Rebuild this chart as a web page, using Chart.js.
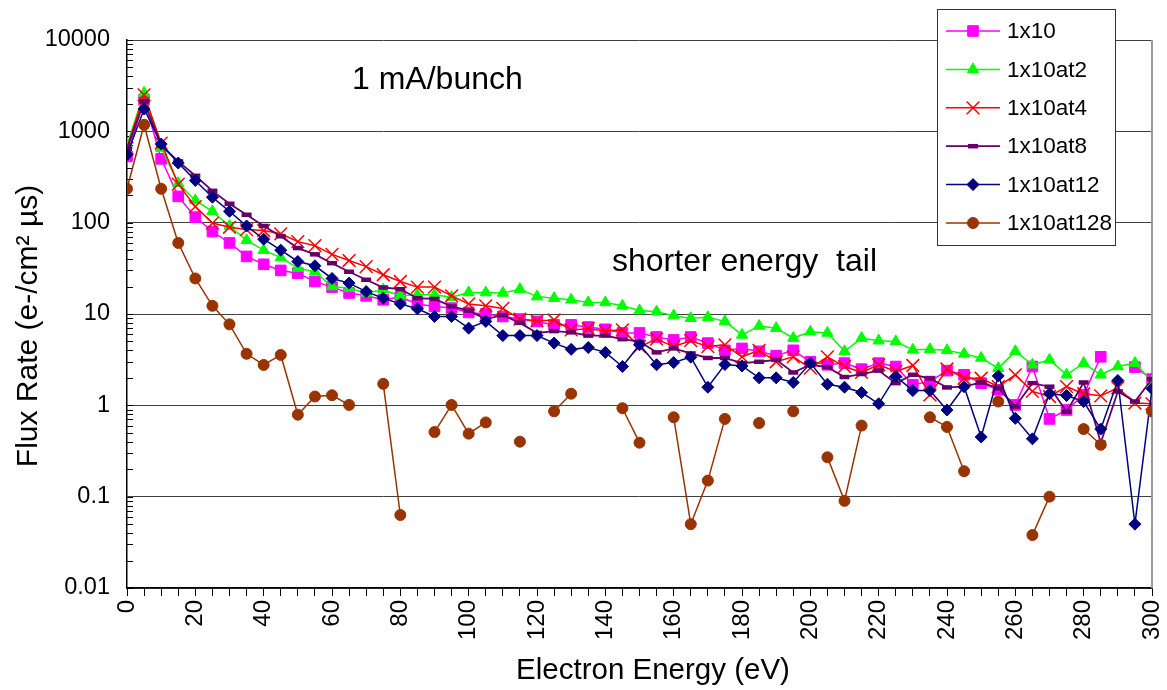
<!DOCTYPE html>
<html>
<head>
<meta charset="utf-8">
<script src="https://cdn.jsdelivr.net/npm/chart.js@4/dist/chart.umd.min.js"></script>
<style>
  html, body { margin: 0; padding: 0; background: #ffffff; }
  canvas { display: block; }
</style>
</head>
<body>
<canvas id="flux" width="1167" height="690"></canvas>
<script>
// Electron energy bins (eV)
const energies = [0,5,10,15,20,25,30,35,40,45,50,55,60,65,70,75,80,85,90,95,100,
  105,110,115,120,125,130,135,140,145,150,155,160,165,170,175,180,185,190,195,200,
  205,210,215,220,225,230,235,240,245,250,255,260,265,270,275,280,285,290,295,300];

// Flux rate per bin (e-/cm² µs); null = no count in that bin
const flux1x10 = [531,2220,500,194,115,80,60,42.7,35,30,28,22.7,19.7,17,15.8,14.3,15.3,12.9,12.1,11.6,10.4,
  10.0,9.4,8.8,8.3,7.6,7.6,7.2,6.8,6.2,6.2,5.6,5.2,5.6,4.8,4.0,4.2,3.9,3.5,4.0,3.0,
  2.78,2.9,2.49,2.9,2.66,1.68,1.82,2.4,2.16,1.75,1.48,1.01,2.66,0.71,0.89,1.3,3.4,null,2.62,1.94];
const flux1x10at2 = [713,2630,656,270,175,133,92,64,50,41.5,31.8,29,20,19.2,17,18.4,15.8,16.2,16.2,15.3,17.2,
  17.2,17,18.7,15.5,14.9,14.3,13.4,13.4,12.3,10.9,10.6,9.6,9.0,9.2,8.3,5.9,7.4,7.0,5.45,6.4,
  6.2,3.9,5.45,5.1,5.0,4.05,4.1,4.0,3.66,3.3,2.55,3.9,2.78,3.15,2.16,2.9,2.16,2.66,2.9,1.82];
const flux1x10at4 = [656,2510,744,264,150,99,89,84,82,75.5,62,56,45,38.5,33,26.9,22.7,19.7,19.7,15.8,12.9,
  12.3,11.5,8.8,8.4,8.6,6.7,6.9,6.5,6.7,4.4,5.3,4.4,5.1,4.4,4.6,3.4,4.0,3.0,3.4,2.55,
  3.4,2.66,2.29,2.78,2.35,2.73,1.3,2.5,1.98,1.98,1.6,2.16,1.42,1.25,1.6,1.34,1.27,1.55,1.06,1.04];
const flux1x10at8 = [645,2125,700,468,326,223,161,122,92,71,52.7,45,36,29,23.7,19.5,18.7,14.9,14.6,12.1,10.9,
  8.8,9.7,8.0,6.2,6.5,6.3,5.8,5.8,5.3,5.0,3.8,4.2,3.7,3.3,3.3,2.9,3.0,3.15,2.29,2.78,
  2.62,2.04,2.2,2.4,1.75,2.16,1.97,1.57,1.6,1.78,1.54,0.97,1.75,1.6,0.85,1.78,0.39,1.42,1.1,1.94];
const flux1x10at12 = [555,1755,726,450,290,190,133,92,66,50,37.6,33.7,24.5,21.8,17.6,14.9,12.9,11.4,9.4,9.4,7.0,
  8.3,5.8,5.8,5.8,4.8,4.1,4.3,3.8,2.66,4.6,2.78,2.94,3.37,1.58,2.8,2.7,2.0,2.0,1.78,2.9,
  1.7,1.58,1.38,1.04,2.07,1.45,1.45,0.89,1.6,0.45,2.1,0.72,0.43,1.34,1.28,1.1,0.55,1.87,0.05,1.52];
const flux1x10at128 = [235,1180,235,60,24.5,12.3,7.7,3.67,2.77,3.56,0.79,1.25,1.29,1.01,null,1.72,0.063,null,0.51,1.01,0.49,
  0.65,null,0.40,null,0.86,1.34,null,null,0.93,0.39,null,0.74,0.05,0.15,0.71,null,0.64,null,0.86,null,
  0.27,0.09,0.6,null,null,null,0.74,0.58,0.19,null,1.1,null,0.038,0.10,null,0.55,0.37,null,null,0.86];

// Axis tick labels
const yDecades = [0.01, 0.1, 1, 10, 100, 1000, 10000];
const xLabelStep = 20;

const FONT = '"Liberation Sans", Arial, Helvetica, sans-serif';

const seriesDefs = [
  { label: '1x10',      values: flux1x10,      color: '#FF00FF', style: 'rect',     radius: 7.5, pbw: 1,   lw: 1.5 },
  { label: '1x10at2',   values: flux1x10at2,   color: '#00FF00', style: 'triangle', radius: 6.5, pbw: 1,   lw: 1.5 },
  { label: '1x10at4',   values: flux1x10at4,   color: '#FF0000', style: 'crossRot', radius: 9,   pbw: 1.5, lw: 1.5 },
  { label: '1x10at8',   values: flux1x10at8,   color: '#660066', style: 'line',     radius: 5,   pbw: 4.5, lw: 1.8 },
  { label: '1x10at12',  values: flux1x10at12,  color: '#000080', style: 'rectRot',  radius: 6,   pbw: 1,   lw: 1.5 },
  { label: '1x10at128', values: flux1x10at128, color: '#993300', style: 'circle',   radius: 5.5, pbw: 1,   lw: 1.5 }
];

const datasets = seriesDefs.map((s, i) => ({
  label: s.label,
  data: energies.map((e, k) => ({ x: e, y: s.values[k] })),
  borderColor: s.color,
  backgroundColor: s.color,
  borderWidth: s.lw,
  pointStyle: s.style,
  pointRadius: s.radius,
  pointBorderWidth: s.pbw,
  pointBorderColor: s.color,
  pointBackgroundColor: s.color,
  spanGaps: false,
  tension: 0,
  order: seriesDefs.length - i
}));

// Inside tick marks on the log axis, plot frame on the right
const axisDecor = {
  id: 'axisDecor',
  beforeDatasetsDraw(chart) {
    const { ctx, chartArea, scales: { y } } = chart;
    ctx.save();
    ctx.strokeStyle = '#000';
    ctx.lineWidth = 1;
    for (let d = -2; d <= 4; d++) {
      for (let k = 1; k <= 9; k++) {
        const v = k * Math.pow(10, d);
        if (v > 10000 * 1.0001) continue;
        const py = Math.round(y.getPixelForValue(v)) + 0.5;
        ctx.beginPath();
        ctx.moveTo(chartArea.left, py);
        ctx.lineTo(chartArea.left + 6, py);
        ctx.stroke();
      }
    }
    ctx.strokeStyle = '#9a9a9a';
    ctx.lineWidth = 2;
    ctx.beginPath();
    ctx.moveTo(chartArea.right, chartArea.top);
    ctx.lineTo(chartArea.right, chartArea.bottom);
    ctx.stroke();
    ctx.restore();
  }
};

// Legend box, notes and axis titles
const overlay = {
  id: 'overlay',
  afterDraw(chart) {
    const { ctx } = chart;
    ctx.save();

    // Notes
    ctx.fillStyle = '#000';
    ctx.font = '32px ' + FONT;
    ctx.textBaseline = 'middle';
    ctx.textAlign = 'left';
    ctx.fillText('1 mA/bunch', 352, 80);
    ctx.fillText('shorter energy  tail', 612, 262);

    // Axis titles
    ctx.font = '29.5px ' + FONT;
    ctx.textAlign = 'center';
    ctx.fillText('Electron Energy (eV)', 653, 671);
    ctx.save();
    ctx.translate(29, 326);
    ctx.rotate(-Math.PI / 2);
    ctx.font = '30px ' + FONT;
    ctx.fillText('Flux Rate (e-/cm\u00B2 \u00B5s)', 0, 0);
    ctx.restore();

    // Legend
    const bx = 937.5, by = 9.5, bw = 178, bh = 236;
    ctx.fillStyle = '#fff';
    ctx.fillRect(bx, by, bw, bh);
    ctx.strokeStyle = '#333';
    ctx.lineWidth = 1;
    ctx.strokeRect(bx, by, bw, bh);
    ctx.font = '22.5px ' + FONT;
    ctx.textAlign = 'left';
    ctx.textBaseline = 'middle';
    chart.data.datasets.forEach((ds, i) => {
      const cy = 31 + i * 38.4;
      ctx.strokeStyle = ds.borderColor;
      ctx.lineWidth = ds.borderWidth;
      ctx.beginPath();
      ctx.moveTo(946, cy);
      ctx.lineTo(1000, cy);
      ctx.stroke();
      ctx.fillStyle = ds.pointBackgroundColor;
      ctx.strokeStyle = ds.pointBorderColor;
      ctx.lineWidth = ds.pointBorderWidth;
      Chart.helpers.drawPoint(ctx, {
        pointStyle: ds.pointStyle, radius: ds.pointRadius, rotation: 0, borderWidth: ds.pointBorderWidth
      }, 973, cy);
      ctx.fillStyle = '#000';
      ctx.fillText(ds.label, 1007, cy + 1);
    });
    ctx.restore();
  }
};

new Chart(document.getElementById('flux'), {
  type: 'line',
  data: { datasets },
  options: {
    responsive: false,
    animation: false,
    devicePixelRatio: 1,
    events: [],
    layout: { padding: { top: 40, right: 15, left: 0, bottom: 0 } },
    plugins: { legend: { display: false }, tooltip: { enabled: false } },
    scales: {
      x: {
        type: 'linear',
        min: 0, max: 300,
        afterFit(scale) {
          scale.height = 102;
          scale.paddingLeft = 0;
          scale.paddingRight = 0;
        },
        border: { color: '#000', width: 1.5 },
        grid: { drawOnChartArea: false, drawTicks: true, tickLength: 8, color: '#000', lineWidth: 1 },
        ticks: {
          stepSize: 5,
          autoSkip: false,
          minRotation: 90, maxRotation: 90,
          padding: 4,
          color: '#000',
          font: { family: FONT, size: 24 },
          callback: v => (v % xLabelStep === 0 ? String(v) : '')
        }
      },
      y: {
        type: 'logarithmic',
        min: 0.01, max: 10000,
        afterFit(scale) {
          scale.width = 127;
          scale.paddingTop = 0;
          scale.paddingBottom = 0;
        },
        afterBuildTicks(scale) { scale.ticks = yDecades.map(v => ({ value: v, major: true })); },
        border: { color: '#000', width: 1.5 },
        grid: { drawTicks: false, color: '#404040', lineWidth: 1 },
        ticks: {
          padding: 17,
          color: '#000',
          font: { family: FONT, size: 23.5 },
          callback: v => String(v)
        }
      }
    }
  },
  plugins: [axisDecor, overlay]
});
</script>
</body>
</html>
